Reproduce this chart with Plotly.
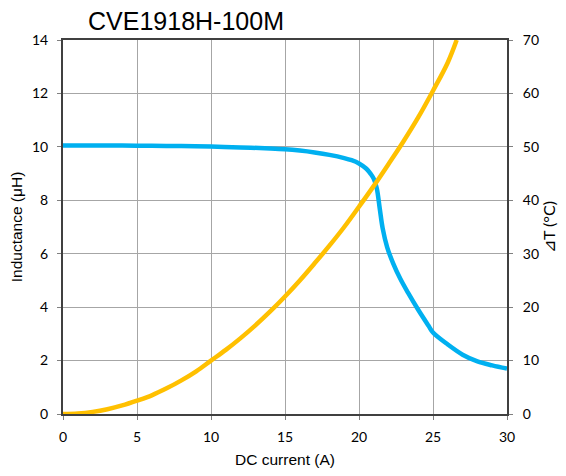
import plotly.graph_objects as go

current_L = [0, 2, 4, 6, 8, 10, 12, 14, 15, 16, 17, 18, 19, 19.5, 20, 20.5, 20.8, 21.0, 21.2, 21.4, 21.6, 21.9, 22.3, 22.8, 23.3, 24, 24.7, 25, 26, 27, 28, 29, 30]
inductance = [10.05, 10.05, 10.05, 10.04, 10.03, 10.01, 9.98, 9.94, 9.91, 9.86, 9.79, 9.70, 9.58, 9.50, 9.38, 9.18, 8.98, 8.80, 8.45, 7.70, 6.95, 6.25, 5.65, 5.05, 4.55, 3.90, 3.30, 3.05, 2.60, 2.22, 1.97, 1.82, 1.70]

current_T = [0, 1, 2, 3, 4, 5, 6, 7, 8, 9, 10, 11, 12, 13, 14, 15, 16, 17, 18, 19, 20, 21, 22, 23, 24, 25, 26, 26.6]
delta_T = [0, 0.1, 0.4, 0.9, 1.6, 2.5, 3.5, 4.8, 6.3, 8.0, 10.0, 12.0, 14.2, 16.6, 19.2, 22.0, 25.0, 28.2, 31.5, 35.0, 38.8, 42.7, 46.8, 51.0, 55.5, 60.5, 65.8, 70.0]

x_ticks = [0, 5, 10, 15, 20, 25, 30]
yL_ticks = [0, 2, 4, 6, 8, 10, 12, 14]
yR_ticks = [0, 10, 20, 30, 40, 50, 60, 70]

tickfont = dict(family="Lato, Carlito, Liberation Sans", size=14, color="#000000")
titlefont = dict(family="Liberation Sans, Arial", size=15.5, color="#000000")
rtitlefont = dict(family="Lato, Carlito, Liberation Sans", size=16, color="#000000")

fig = go.Figure()
fig.add_trace(go.Scatter(x=current_T, y=delta_T, mode="lines", yaxis="y2",
                         line=dict(color="#FFC000", width=4.5, shape="spline"), showlegend=False))
fig.add_trace(go.Scatter(x=current_L, y=inductance, mode="lines",
                         line=dict(color="#00B0F0", width=4.5, shape="spline"), showlegend=False))

W, H = 550, 460
fig.update_layout(
    width=W, height=H,
    margin=dict(l=55, r=51, t=32, b=54, autoexpand=False),
    paper_bgcolor="white", plot_bgcolor="white",
    title=dict(text="CVE1918H-100M", x=178/W, xanchor="center", y=1 - 4/H, yanchor="top",
               font=dict(family="Liberation Sans, Arial", size=25, color="#000000")),
    xaxis=dict(range=[0, 30], tickvals=x_ticks, ticks="outside", ticklen=4, tickcolor="#808080",
               ticklabelstandoff=5,
               showgrid=True, gridcolor="#A6A6A6", gridwidth=1,
               showline=True, linecolor="#404040", linewidth=2, mirror=True,
               tickfont=tickfont, title=dict(text="DC current (A)", font=titlefont, standoff=12),
               zeroline=False),
    yaxis=dict(range=[0, 14], tickvals=yL_ticks, ticks="outside", ticklen=4, tickcolor="#808080",
               ticklabelstandoff=6,
               showgrid=True, gridcolor="#A6A6A6", gridwidth=1,
               showline=True, linecolor="#404040", linewidth=2,
               tickfont=tickfont, title=dict(text="Inductance (μH)", font=titlefont, standoff=10),
               zeroline=False),
    yaxis2=dict(range=[0, 70], tickvals=yR_ticks, overlaying="y", side="right",
                ticks="outside", ticklen=4, tickcolor="#808080", ticklabelstandoff=7,
                showgrid=False, showline=True, linecolor="#404040", linewidth=2,
                tickfont=tickfont, title=dict(text="⊿T (°C)", font=rtitlefont, standoff=9),
                zeroline=False),
)

fig.write_html("out.html")
